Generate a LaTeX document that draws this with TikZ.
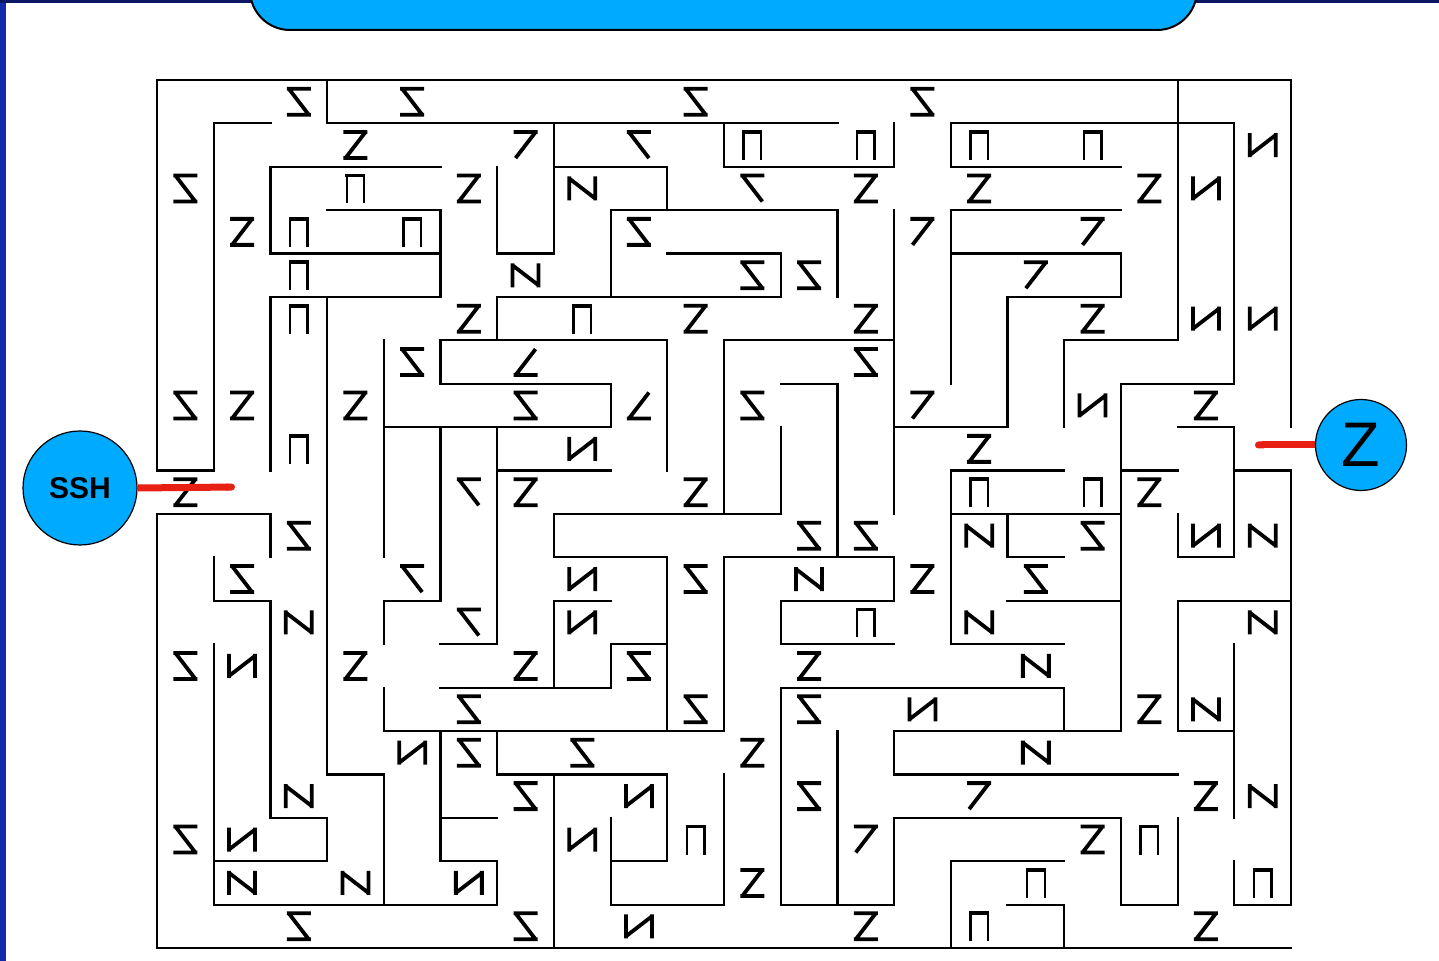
\documentclass[tikz,border=0pt]{standalone}
\usepackage{fontspec}
\setmainfont{Liberation Sans}
\usetikzlibrary{arrows.meta}
\definecolor{skyb}{RGB}{0,170,255}
\definecolor{redl}{RGB}{232,32,20}
\definecolor{frameb}{RGB}{20,40,170}
\begin{document}
\begin{tikzpicture}[x=0.5pt,y=-0.5pt,
  wall/.style={line width=1.1pt, line cap=rect},
  gl/.style={line width=1.9pt},
  glt/.style={line width=1.15pt},
  redline/.style={draw=redl, line width=3.5pt},
  ball/.style={circle, fill=skyb, draw=black, line width=0.6pt, inner sep=0pt},
  pics/zg/.style={code={\draw[gl] (-12,-13)--(12,-13) (10,-13)--(-10,13) (-12,13)--(12,13);}},
  pics/sg/.style={code={\draw[gl] (-12,-13)--(12,-13) (-10,-13)--(10,13) (-12,13)--(12,13);}},
  pics/ng/.style={code={\draw[gl] (-13,-12)--(-13,12) (-13,-10)--(13,10) (13,-12)--(13,12);}},
  pics/rng/.style={code={\draw[gl] (-13,-12)--(-13,12) (-13,10)--(13,-10) (13,-12)--(13,12);}},
  pics/sevg/.style={code={\draw[gl] (-12,-13)--(12,-13) (10,-13)--(-10,13);}},
  pics/rsevg/.style={code={\draw[gl] (-12,-13)--(12,-13) (-10,-13)--(10,13);}},
  pics/lg/.style={code={\draw[gl] (10,-13)--(-10,13) (-12,13)--(12,13);}},
  pics/pg/.style={code={\draw[gl] (-10,-13)--(10,-13); \draw[glt] (-8.8,-13)--(-8.8,15) (8.8,-13)--(8.8,15);}}
]
\useasboundingbox (0,0) rectangle (1439,961);
\fill[white] (0,0) rectangle (1439,961);
% window frame
\fill[frameb] (0,0) rectangle (6,961);
\fill[frameb!60!black] (0,0) rectangle (1439,3);
% top bar
\draw[fill=skyb, line width=1pt, rounded corners=20] (250,-40) rectangle (1197,30);

% maze walls
\begin{scope}[shift={(78.5pt,-40pt)}, x=28.35pt, y=-21.7pt]
\foreach \jj/\lo/\hi in {0/0/20, 1/1/2, 1/3/12, 1/14/19, 2/2/5, 2/7/9, 2/10/13, 2/14/17, 3/3/5, 3/8/12, 3/14/17, 4/2/5, 4/6/7, 4/9/11, 4/14/17, 5/2/5, 5/6/11, 5/15/17, 6/5/9, 6/10/13, 6/16/18, 7/5/8, 7/11/12, 7/17/19, 8/4/8, 8/13/15, 8/18/19, 9/0/1, 9/6/8, 9/14/16, 9/17/18, 9/19/20, 10/0/2, 10/7/11, 10/14/17, 11/7/9, 11/10/13, 11/15/16, 11/18/19, 12/1/2, 12/4/5, 12/7/8, 12/11/13, 12/15/17, 12/18/20, 13/5/6, 13/8/9, 13/11/13, 13/14/16, 14/5/8, 14/11/16, 15/4/10, 15/13/17, 15/18/19, 16/3/4, 16/6/9, 16/13/18, 17/2/3, 17/5/6, 17/13/17, 18/1/3, 18/5/6, 18/8/9, 18/14/16, 19/1/6, 19/8/10, 19/11/13, 19/15/16, 19/17/18, 19/19/20, 20/0/20}
  \draw[wall] (\lo,\jj) -- (\hi,\jj);
\foreach \ii/\lo/\hi in {0/0/9, 0/10/20, 1/1/9, 1/11/12, 1/13/19, 2/2/4, 2/5/9, 2/10/11, 2/12/17, 3/0/1, 3/5/16, 3/17/18, 4/6/11, 4/12/13, 4/14/15, 4/16/19, 5/3/5, 5/6/7, 5/8/12, 5/15/18, 6/2/4, 6/5/6, 6/8/13, 6/15/16, 6/18/19, 7/1/4, 7/10/11, 7/12/14, 7/16/20, 8/3/5, 8/7/8, 8/13/14, 8/17/19, 9/2/3, 9/6/9, 9/11/15, 9/16/18, 10/1/2, 10/6/10, 10/11/15, 10/16/19, 11/4/5, 11/8/10, 11/12/13, 11/14/19, 12/3/5, 12/7/11, 12/15/19, 13/1/2, 13/3/10, 13/11/12, 13/15/16, 13/17/19, 14/1/2, 14/3/7, 14/9/13, 14/18/20, 15/5/8, 15/10/11, 16/6/8, 16/14/15, 16/19/20, 17/4/5, 17/7/15, 17/17/19, 18/0/6, 18/10/11, 18/12/15, 18/17/19, 19/1/7, 19/8/11, 19/13/17, 19/18/19, 20/0/8, 20/9/19}
  \draw[wall] (\ii,\lo) -- (\ii,\hi);
\end{scope}

% glyphs
\foreach \gc/\gr in {3/1,5/2,12/2,14/2,17/2,1/3,5/5,9/5,12/5,16/5,1/7,3/7,18/7,14/8,0/9,6/9,9/9,17/9,13/11,3/13,6/13,11/13,17/14,10/15,18/16,16/17,10/18,12/19,18/19}
  \pic at ({157+56.7*(\gc+0.5)},{80+43.4*(\gr+0.5)}) {zg};
\foreach \gc/\gr in {2/0,4/0,9/0,13/0,0/2,8/3,10/4,11/4,4/6,12/6,0/7,6/7,10/7,2/10,11/10,12/10,16/10,1/11,9/11,15/11,0/13,8/13,5/14,9/14,11/14,5/15,7/15,6/16,11/16,0/17,2/19,6/19}
  \pic at ({157+56.7*(\gc+0.5)},{80+43.4*(\gr+0.5)}) {sg};
\foreach \gc/\gr in {7/2,6/4,14/10,19/10,11/11,2/12,14/12,19/12,15/13,18/14,15/15,2/16,19/16,1/18,3/18}
  \pic at ({157+56.7*(\gc+0.5)},{80+43.4*(\gr+0.5)}) {ng};
\foreach \gc/\gr in {19/1,18/2,18/5,19/5,16/7,7/8,18/10,7/11,7/12,1/13,13/14,4/15,8/16,1/17,7/17,5/18,8/19}
  \pic at ({157+56.7*(\gc+0.5)},{80+43.4*(\gr+0.5)}) {rng};
\foreach \gc/\gr in {10/1,12/1,14/1,16/1,3/2,2/3,4/3,2/4,2/5,7/5,2/8,14/9,16/9,12/12,9/17,17/17,15/18,19/18,14/19}
  \pic at ({157+56.7*(\gc+0.5)},{80+43.4*(\gr+0.5)}) {pg};
\foreach \gc/\gr in {6/1,13/3,16/3,15/4,13/7,14/16,12/17}
  \pic at ({157+56.7*(\gc+0.5)},{80+43.4*(\gr+0.5)}) {sevg};
\foreach \gc/\gr in {8/1,10/2,5/9,4/11,5/12}
  \pic at ({157+56.7*(\gc+0.5)},{80+43.4*(\gr+0.5)}) {rsevg};
\foreach \gc/\gr in {6/6,8/7}
  \pic at ({157+56.7*(\gc+0.5)},{80+43.4*(\gr+0.5)}) {lg};

% start and goal
\node[ball, minimum size=57pt] (ssh) at (80,488) {\fontsize{15}{18}\selectfont\bfseries SSH};
\node[ball, minimum size=45.5pt] (goal) at (1361,445) {\fontsize{31.5}{36}\selectfont Z};
\coordinate (lend) at (235,487);
\coordinate (rend) at (1255,445);
\draw[redline, -{Round Cap[]}] (ssh.east) -- (lend);
\draw[redline, {Round Cap[]}-] (rend) -- (goal.west);
\end{tikzpicture}
\end{document}
